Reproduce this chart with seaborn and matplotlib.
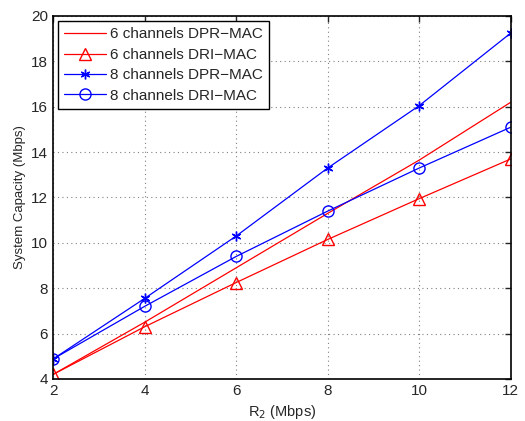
import matplotlib
matplotlib.use("Agg")
import matplotlib.pyplot as plt
import numpy as np
import pandas as pd
import seaborn as sns

rate = [2, 4, 6, 8, 10, 12]
dpr_6ch = [4.2, 6.5, 8.9, 11.3, 13.65, 16.2]
dri_6ch = [4.2, 6.3, 8.25, 10.15, 11.95, 13.7]
dpr_8ch = [4.88, 7.55, 10.3, 13.3, 16.05, 19.25]
dri_8ch = [4.88, 7.2, 9.4, 11.4, 13.3, 15.1]

asterisk = (6, 2, 0)
series = [
    ("6 channels DPR\u2212MAC", dpr_6ch, "red", None),
    ("6 channels DRI\u2212MAC", dri_6ch, "red", "^"),
    ("8 channels DPR\u2212MAC", dpr_8ch, "blue", asterisk),
    ("8 channels DRI\u2212MAC", dri_8ch, "blue", "o"),
]

sns.set_style("white")
plt.rcParams["font.family"] = ["Liberation Sans", "DejaVu Sans"]

fig = plt.figure(figsize=(5.25, 4.21), dpi=100)
ax = fig.add_axes([0.101, 0.0998, 0.872, 0.8622])

for label, vals, color, marker in series:
    df = pd.DataFrame({"x": rate, "y": vals})
    sns.lineplot(data=df, x="x", y="y", ax=ax, color=color, linewidth=0.9,
                 marker=marker, markersize=8 if marker != asterisk else 7,
                 markerfacecolor="none", markeredgecolor=color,
                 markeredgewidth=1.0, label=label)

ax.set_xlim(2, 12)
ax.set_ylim(4, 20)
ax.set_xticks(np.arange(2, 13, 2))
ax.set_yticks(np.arange(4, 21, 2))
ax.set_xlabel("R$_2$ (Mbps)", fontsize=10.5)
ax.set_ylabel("System Capacity (Mbps)", fontsize=9.5)
ax.tick_params(direction="in", length=4, labelsize=11, top=True, right=True, width=1)
ax.grid(True, linestyle=(0, (1, 3)), color="gray", linewidth=0.8)
for sp in ax.spines.values():
    sp.set_linewidth(1.2)
    sp.set_color("black")

leg = ax.legend(loc="upper left", fontsize=11, frameon=True, fancybox=False,
                framealpha=1, edgecolor="black", borderaxespad=0.35,
                handlelength=2.7, handletextpad=0.3, labelspacing=0.42,
                borderpad=0.4)
leg.get_frame().set_linewidth(1.0)

fig.savefig("out.png", dpi=100)
